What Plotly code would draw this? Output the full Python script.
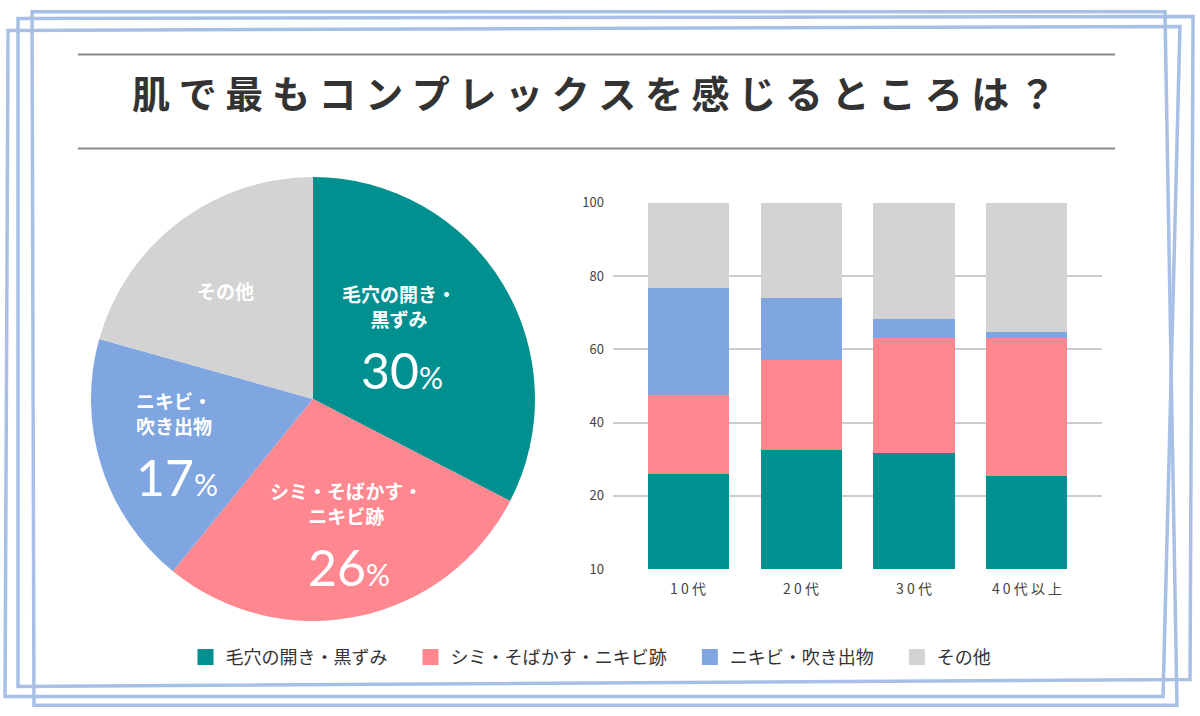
import plotly.graph_objects as go

W, H = 1200, 716

# pie data
pie_labels = ['毛穴の開き・黒ずみ', 'シミ・そばかす・ニキビ跡', 'ニキビ・吹き出物', 'その他']
pie_names = ['毛穴の開き・<br>黒ずみ', 'シミ・そばかす・<br>ニキビ跡', 'ニキビ・<br>吹き出物', 'その他']
pie_values = [30, 26, 17, 19]
pie_pct = ['30', '26', '17', '']

# bar data (stacked, per age group)
ages = ['10代', '20代', '30代', '40代以上']
pores = [26.0, 32.5, 31.8, 25.4]
spots = [21.4, 24.7, 31.3, 37.7]
acne = [29.2, 16.9, 5.1, 1.6]
other = [23.4, 25.9, 31.8, 35.3]

y_ticks = [0, 20, 40, 60, 80, 100]
y_ticktext = ['10', '20', '40', '60', '80', '100']

colors = ['#009090', '#fe8790', '#7fa6e0', '#d3d3d3']
FONT = 'Noto Sans CJK JP'

# where the slice labels sit (pixels)
label_pos = [(399, 307), (346, 504), (174, 414), (225, 292)]


def fy(y):
    # the page gets squeezed a little vertically when photographed,
    # so map a target pixel row back to a paper fraction
    yf = (y - 11.6) / 0.972
    yf = min(max(yf, 1.8), H - 1.8)
    return 1 - yf / H


def px(x, y):
    return x / W, fy(y)


def frame(pts):
    p = [px(x, y) for x, y in pts]
    d = 'M' + ' L'.join('{:.4f},{:.4f}'.format(a, b) for a, b in p) + ' Z'
    return dict(type='path', path=d, xref='paper', yref='paper',
                line=dict(color='#a9c0e6', width=3.5))


def spaced(s):
    return ' '.join(s)


fig = go.Figure()

fig.add_trace(go.Pie(
    labels=pie_labels,
    values=pie_values,
    textinfo='none',
    marker=dict(colors=colors, line=dict(width=0)),
    sort=False,
    direction='clockwise',
    rotation=0,
    showlegend=False,
    domain=dict(x=[91 / W, 535 / W], y=[fy(622), fy(178)]),
    hoverinfo='label+percent',
))

for name, vals, c in zip(pie_labels, [pores, spots, acne, other], colors):
    fig.add_trace(go.Bar(
        x=ages, y=vals, name=name, showlegend=False,
        marker=dict(color=c, line=dict(width=0)),
    ))
    # legend entry with a bigger swatch
    fig.add_trace(go.Scatter(
        x=[None], y=[None], name=name + '\u3000', mode='markers',
        marker=dict(symbol='square', size=18, color=c),
    ))

annotations = []
for (x, y), n, p in zip(label_pos, pie_names, pie_pct):
    ax, ay = px(x, y)
    annotations.append(dict(
        x=ax, y=ay, xref='paper', yref='paper', showarrow=False,
        text='<b>' + n + '</b>', align='center', xanchor='center', yanchor='middle',
        font=dict(family=FONT, size=19, color='white'),
    ))
    if p:
        annotations.append(dict(
            x=ax + 3 / W, y=fy(y + 64), xref='paper', yref='paper', showarrow=False,
            text="<span style='font-size:50px'>" + p + "</span><span style='font-size:30px'>%</span>",
            xanchor='center', yanchor='middle', font=dict(family='Lato', color='white'),
        ))

shapes = [
    dict(type='line', xref='paper', yref='paper', x0=78 / W, x1=1115 / W,
         y0=fy(56), y1=fy(56), line=dict(color='#8a8a8a', width=2)),
    dict(type='line', xref='paper', yref='paper', x0=78 / W, x1=1115 / W,
         y0=fy(150), y1=fy(150), line=dict(color='#8a8a8a', width=2)),
    frame([(32, 7), (1165, 10), (1177, 710), (34, 707)]),
    frame([(18, 20), (1193, 18), (1190, 680), (18, 687)]),
    frame([(8, 32), (1180, 28), (1163, 697), (5, 697)]),
]

fig.update_layout(
    width=W, height=H, autosize=False,
    margin=dict(l=0, r=0, t=0, b=0),
    paper_bgcolor='white', plot_bgcolor='white',
    font=dict(family=FONT, color='#333'),
    barmode='stack',
    bargap=0.283,
    title=dict(text='<b>' + spaced('肌で最もコンプレックスを感じるところは？') + '</b>',
               x=594 / W, xanchor='center', y=fy(104), yanchor='middle',
               font=dict(family=FONT, size=38, color='#333')),
    xaxis=dict(domain=[613 / W, 1102 / W], range=[-0.664, 3.664],
               tickvals=list(range(len(ages))), ticktext=[spaced(a) for a in ages],
               tickfont=dict(size=14, color='#444'), showgrid=False, showline=False,
               ticks='', fixedrange=True, ticklabelstandoff=10),
    yaxis=dict(domain=[fy(570), fy(204)], range=[0, 100],
               tickvals=y_ticks, ticktext=y_ticktext,
               tickfont=dict(size=13, color='#444'), gridcolor='#cccccc', gridwidth=1.5,
               zeroline=False, showline=False, ticks='', ticklabelstandoff=8),
    legend=dict(orientation='h', x=0.5, xanchor='center', y=fy(658), yanchor='middle',
                font=dict(size=18, color='#333'), traceorder='normal', itemsizing='trace'),
    shapes=shapes,
    annotations=annotations,
)

fig.write_html('out.html', config={'displayModeBar': False, 'responsive': False},
               post_script="document.body.style.margin='0px';")
